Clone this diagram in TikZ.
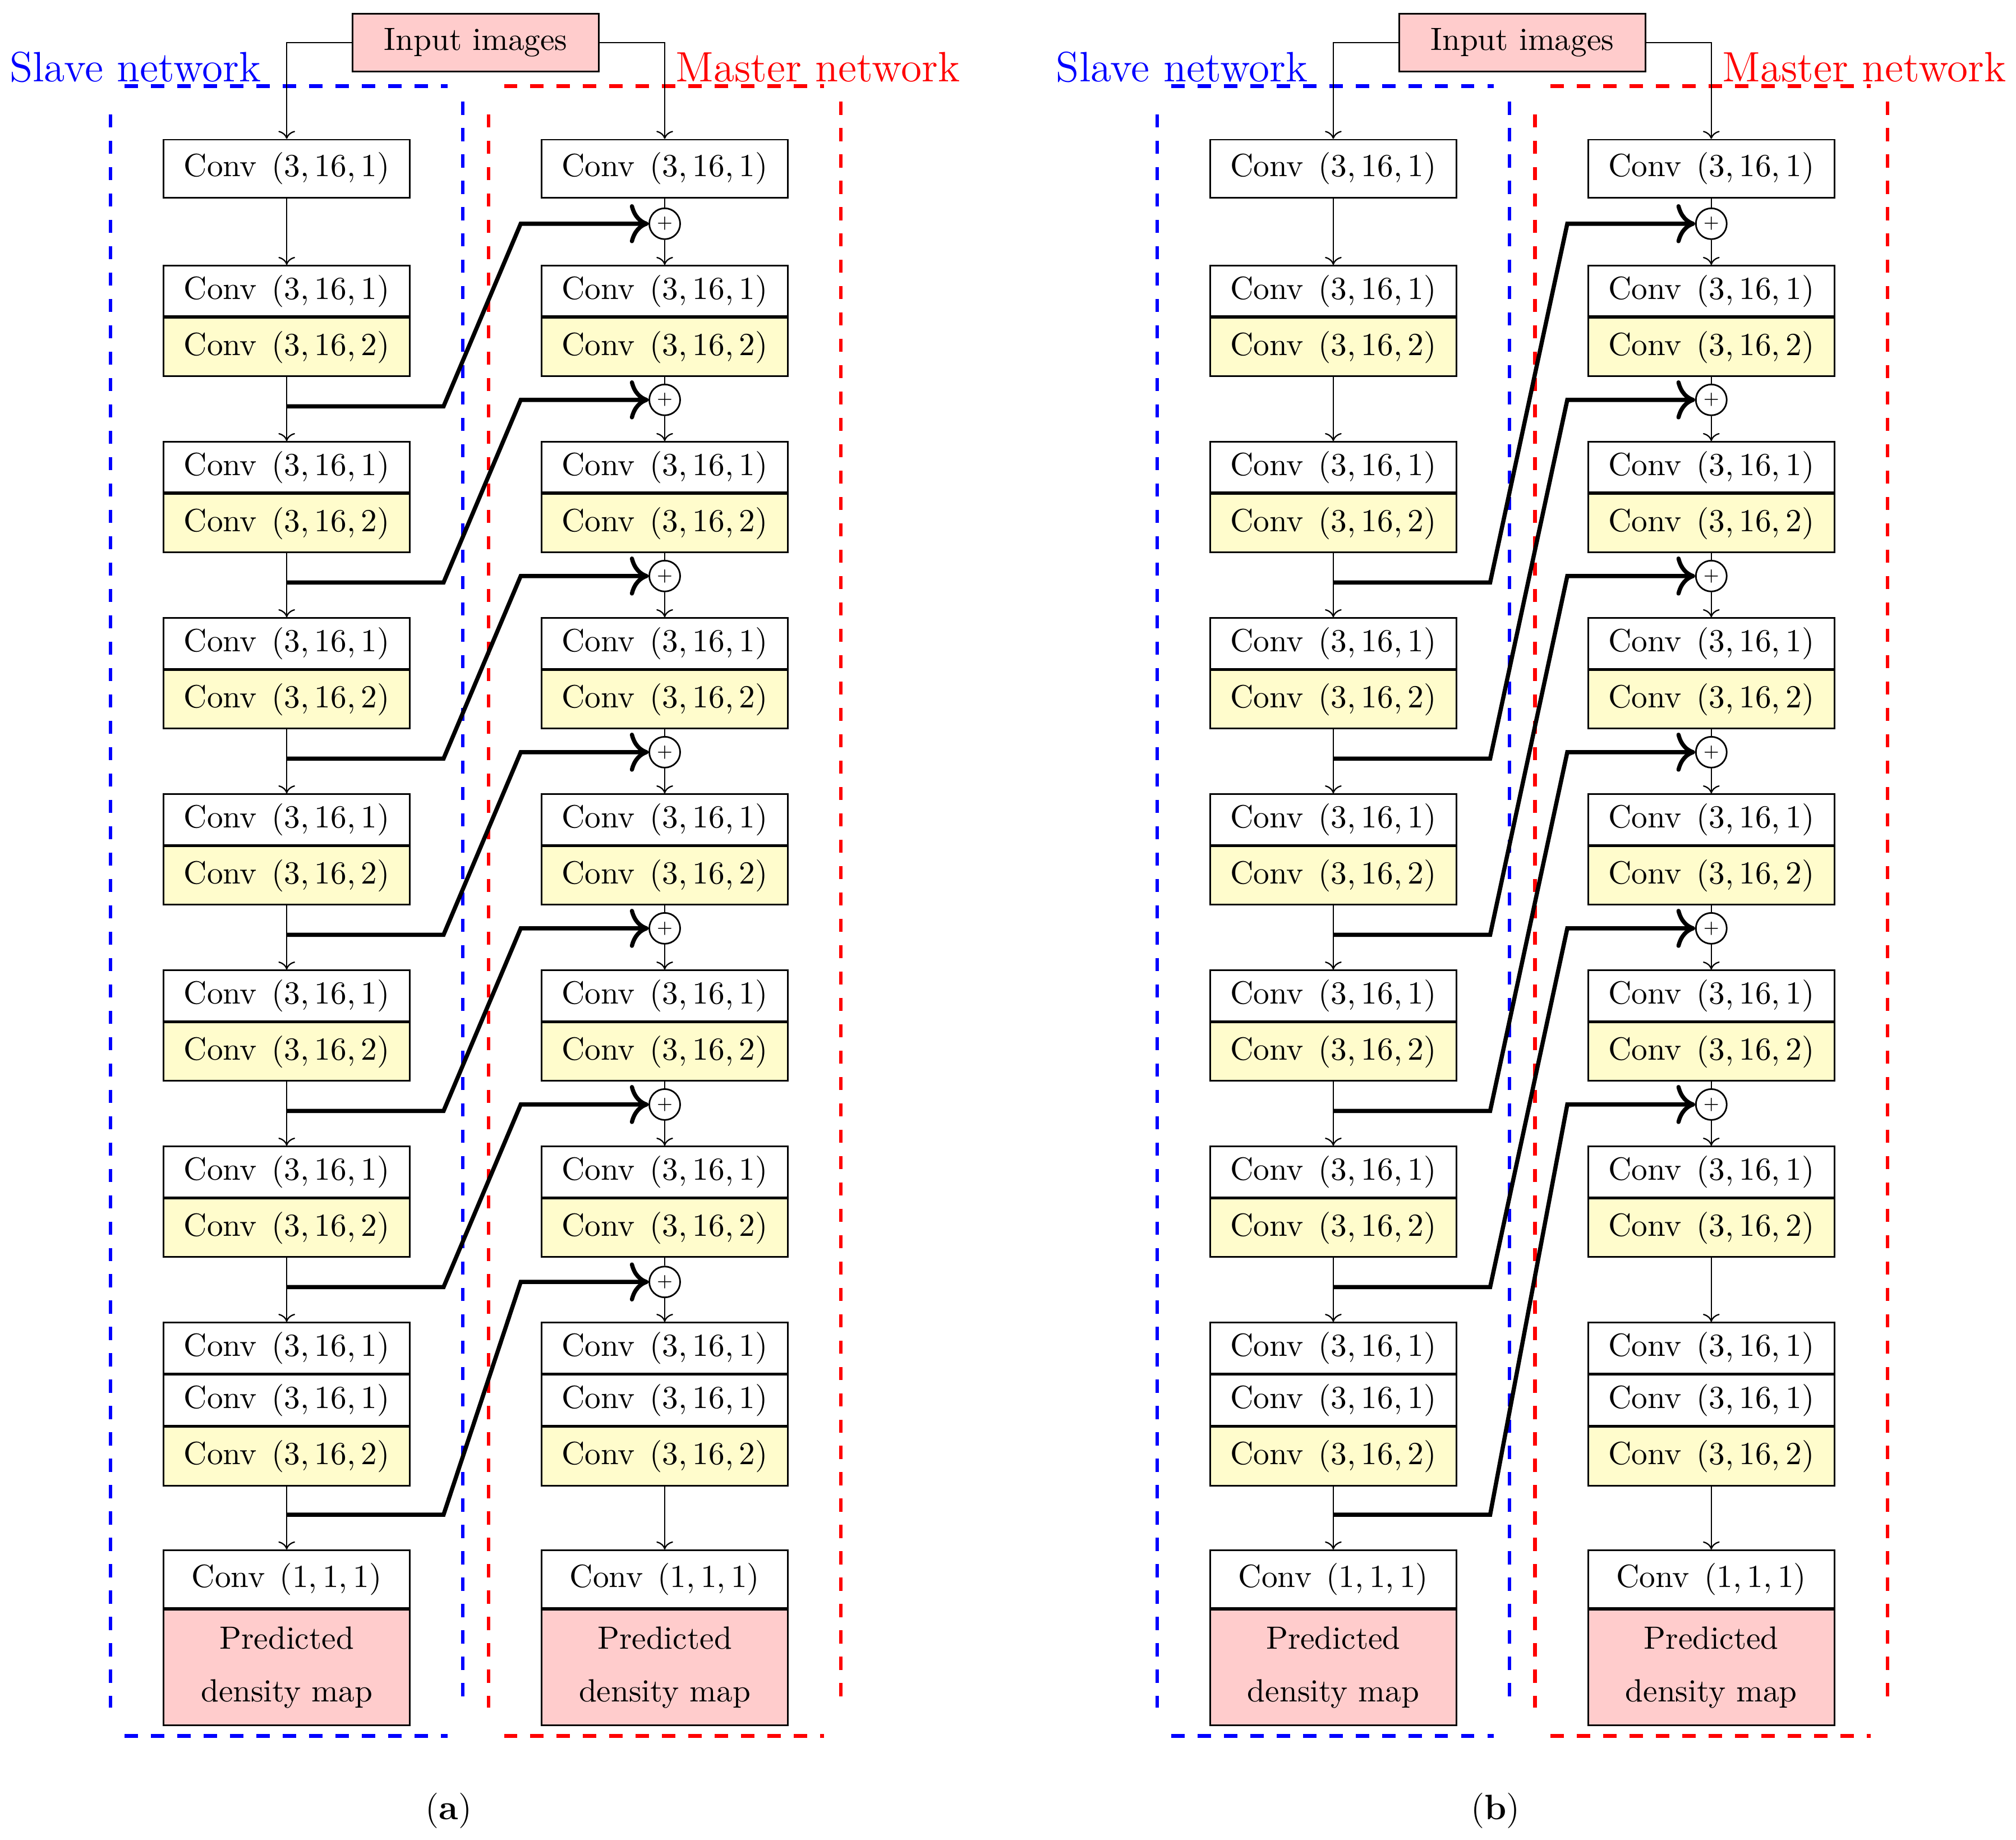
\documentclass[tikz,border=0pt]{standalone}
\usetikzlibrary{arrows.meta}
\tikzset{
  convbox/.style={draw,line width=0.5pt,minimum width=76.6pt,inner sep=0pt,anchor=north,font=\fontsize{10}{12}\selectfont},
  onerow/.style={convbox,minimum height=18pt},
  wrow/.style={convbox,minimum height=15.76pt,fill=white},
  yrow/.style={convbox,minimum height=18.16pt,fill=yellow!20},
  predbox/.style={convbox,minimum height=36pt,fill=red!20,align=center,font=\fontsize{10}{16.3}\selectfont},
  flow/.style={->,line width=0.4pt},
  plainline/.style={line width=0.4pt},
  skiparrow/.style={-{To[scale=1.3]},line width=1.3pt},
  plusnode/.style={circle,draw,line width=0.5pt,minimum size=9.6pt,inner sep=0pt,fill=white,font=\fontsize{4.5}{5}\selectfont},
  slavedash/.style={blue,line width=1.15pt,dash pattern=on 4.1pt off 4.1pt},
  masterdash/.style={red,line width=1.15pt,dash pattern=on 4.1pt off 4.1pt},
  netlabel/.style={anchor=base west,inner sep=0pt,font=\fontsize{13.2}{15}\selectfont},
}
\newcommand\convtxt[1]{Conv\hspace{4.6pt}$(#1)$}
\newcommand\drawpanel[2]{%
  % dashed frames
  \draw[slavedash] (97,67) -- (348,67);
  \draw[slavedash] (86,89) -- (86,1328);
  \draw[slavedash] (360,79) -- (360,1328);
  \draw[slavedash] (97,1350) -- (348,1350);
  \draw[masterdash] (392,67) -- (641,67);
  \draw[masterdash] (380,89) -- (380,1328);
  \draw[masterdash] (654,79) -- (654,1328);
  \draw[masterdash] (392,1350) -- (641,1350);
  \node[netlabel,blue] (#1slab) at (7,63.5) {Slave network};
  \node[netlabel,red] (#1mlab) at (525,63.5) {Master network};
  \node[onerow,fill=red!20] (#1in) at (370,10) {Input images};
  \foreach \col/\cx in {s/223,m/517}{
    \node[onerow,fill=white] (#1\col1) at (\cx,108) {\convtxt{3,16,1}};
    \foreach \bk/\by in {2/206,3/343,4/480,5/617,6/754,7/891}{
      \node[wrow] (#1\col\bk t) at (\cx,\by) {\convtxt{3,16,1}};
      \node[yrow] (#1\col\bk b) at (#1\col\bk t.south) {\convtxt{3,16,2}};
    }
    \node[wrow] (#1\col8t) at (\cx,1028) {\convtxt{3,16,1}};
    \node[wrow] (#1\col8m) at (#1\col8t.south) {\convtxt{3,16,1}};
    \node[yrow] (#1\col8b) at (#1\col8m.south) {\convtxt{3,16,2}};
    \node[onerow,fill=white] (#1\col9) at (\cx,1205) {\convtxt{1,1,1}};
    \node[predbox] (#1\col p) at (#1\col9.south) {Predicted\\density map};
    \draw[flow] (#1\col8b.south) -- (#1\col9.north);
  }
  \draw[flow] (#1in.west) -| (#1s1.north);
  \draw[flow] (#1in.east) -| (#1m1.north);
  \draw[flow] (#1s1.south) -- (#1s2t.north);
  \foreach \u/\v in {2/3,3/4,4/5,5/6,6/7,7/8}{
    \draw[flow] (#1s\u b.south) -- (#1s\v t.north);
  }
  \foreach \bk/\ty in {2/316,3/453,4/590,5/727,6/864,7/1001,8/1178}{
    \coordinate (#1t\bk) at (223,\ty);
  }
  \node[anchor=base,inner sep=0pt,font=\fontsize{11}{13}\selectfont] (#1cap) at (349,1415) {(\textbf{#2})};
}
\begin{document}
\begin{tikzpicture}[x=0.4pt,y=-0.4pt]
\useasboundingbox (0,0) rectangle (1568,1431);
% ---------------- panel (a)
\begin{scope}
  \drawpanel{a}{a}
  \foreach \ck/\cy in {1/174,2/311,3/448,4/585,5/722,6/859,7/997}{
    \node[plusnode] (ac\ck) at (517,\cy) {$+$};
  }
  \draw[plainline] (am1.south) -- (ac1);
  \draw[flow] (ac1) -- (am2t.north);
  \foreach \u/\v in {2/3,3/4,4/5,5/6,6/7,7/8}{
    \draw[plainline] (am\u b.south) -- (ac\u);
    \draw[flow] (ac\u) -- (am\v t.north);
  }
  \foreach \tk/\ck/\cy in {2/1/174,3/2/311,4/3/448,5/4/585,6/5/722,7/6/859,8/7/997}{
    \draw[skiparrow] (at\tk) -- ++(122,0) -- (405,\cy) -- (ac\ck);
  }
\end{scope}
% ---------------- panel (b)
\begin{scope}[shift={(814,0)}]
  \drawpanel{b}{b}
  \foreach \ck/\cy in {1/174,2/311,3/448,4/585,5/722,6/859}{
    \node[plusnode] (bc\ck) at (517,\cy) {$+$};
  }
  \draw[plainline] (bm1.south) -- (bc1);
  \draw[flow] (bc1) -- (bm2t.north);
  \foreach \u/\v in {2/3,3/4,4/5,5/6,6/7}{
    \draw[plainline] (bm\u b.south) -- (bc\u);
    \draw[flow] (bc\u) -- (bm\v t.north);
  }
  \draw[flow] (bm7b.south) -- (bm8t.north);
  \foreach \tk/\ck/\cy in {3/1/174,4/2/311,5/3/448,6/4/585,7/5/722,8/6/859}{
    \draw[skiparrow] (bt\tk) -- ++(122,0) -- (405,\cy) -- (bc\ck);
  }
\end{scope}
\end{tikzpicture}
\end{document}
